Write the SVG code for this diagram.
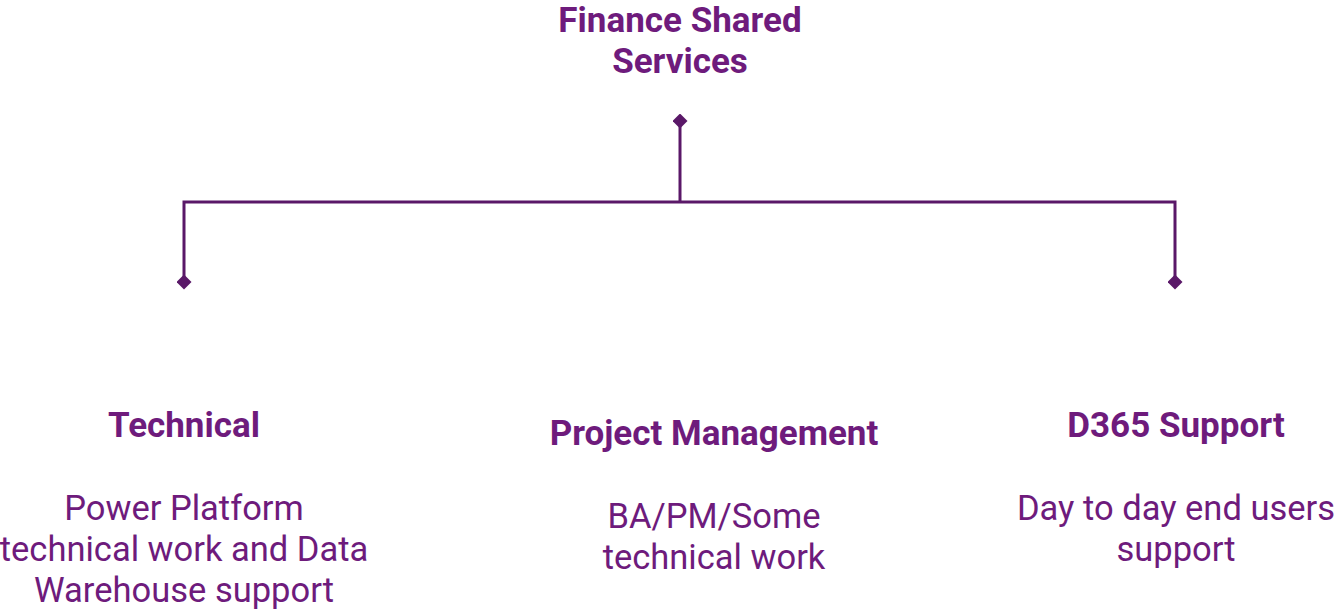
<svg xmlns="http://www.w3.org/2000/svg" width="1341" height="610" viewBox="0 0 1341 610">
  <style>
    .title { font-family: Roboto, "Liberation Sans", sans-serif; font-weight: 700; font-size: 35px; fill: #6E1B7C; text-anchor: middle; }
    .body { font-family: Roboto, "Liberation Sans", sans-serif; font-weight: 400; font-size: 34.5px; fill: #6E1B7C; text-anchor: middle; }
    .link { fill: none; stroke: #5A1868; stroke-width: 3; }
  </style>
  <defs>
    <marker id="diamond" viewBox="-5 -5 10 10" markerWidth="5" markerHeight="5" refX="0" refY="0" orient="auto" markerUnits="strokeWidth">
      <path d="M0,-5 L5,0 L0,5 L-5,0 Z" fill="#5A1868"/>
    </marker>
  </defs>
  <rect width="1341" height="610" fill="#ffffff"/>

  <!-- connectors -->
  <g id="connectors">
    <path class="link" d="M680,121 V202" marker-start="url(#diamond)"/>
    <path class="link" d="M184,282 V202 H1175 V282" marker-start="url(#diamond)" marker-end="url(#diamond)"/>
  </g>

  <g id="root">
    <text class="title" x="680" y="32">Finance Shared</text>
    <text class="title" x="680" y="73">Services</text>
  </g>

  <g id="technical">
    <text class="title" x="184" y="437">Technical</text>
    <text class="body" x="184" y="520">Power Platform</text>
    <text class="body" x="184" y="561">technical work and Data</text>
    <text class="body" x="184" y="602">Warehouse support</text>
  </g>

  <g id="project-management">
    <text class="title" x="714" y="445">Project Management</text>
    <text class="body" x="714" y="528">BA/PM/Some</text>
    <text class="body" x="714" y="569">technical work</text>
  </g>

  <g id="d365-support">
    <text class="title" x="1176" y="437">D365 Support</text>
    <text class="body" x="1176" y="520">Day to day end users</text>
    <text class="body" x="1176" y="561">support</text>
  </g>
</svg>
